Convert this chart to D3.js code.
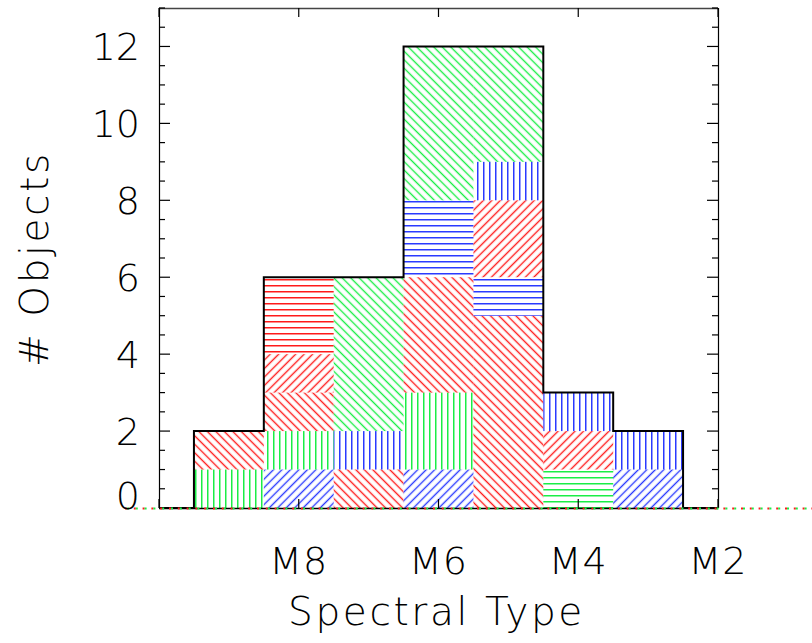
<!DOCTYPE html>
<html>
<head>
<meta charset="utf-8">
<script src="https://cdn.jsdelivr.net/npm/d3@7"></script>
<style>
  html, body { margin: 0; padding: 0; background: #fff; }
  svg text { font-family: "DejaVu Sans", "Noto Sans", sans-serif; font-weight: 200; fill: #000; }
</style>
</head>
<body>
<svg id="chart" width="812" height="643"></svg>
<script>
// Spectral subtype bins along the x axis (M10 ... M2)
const subtypes = [10, 9, 8, 7, 6, 5, 4, 3, 2];

// Stacked groups inside each bin, listed bottom to top
const segSubtype = [9, 9, 8, 8, 8, 8, 8, 7, 7, 7, 6, 6, 6, 6, 6, 5, 5, 5, 5, 5, 4, 4, 4, 3, 3];
const segCount   = [1, 1, 1, 1, 1, 1, 2, 1, 1, 4, 1, 2, 3, 2, 4, 5, 1, 2, 1, 3, 1, 1, 1, 1, 1];
const segColor   = ["green", "red",
                    "blue", "green", "red", "red", "red",
                    "red", "blue", "green",
                    "blue", "green", "red", "blue", "green",
                    "red", "blue", "red", "blue", "green",
                    "green", "red", "blue",
                    "blue", "blue"];
const segHatch   = ["vert", "back",
                    "fwd", "vert", "back", "fwd", "horiz",
                    "back", "vert", "back",
                    "fwd", "vert", "back", "horiz", "back",
                    "back", "horiz", "fwd", "vert", "back",
                    "horiz", "fwd", "vert",
                    "fwd", "vert"];

// Axis ticks and labels
const xTickValues = [10, 8, 6, 4, 2];
const xTickLabels = ["", "M8", "M6", "M4", "M2"];
const yTickValues = [0, 2, 4, 6, 8, 10, 12];

const palette = { red: "#ff1a1a", green: "#1aee46", blue: "#2a3aff" };

const svg = d3.select("#chart");
const plotLeft = 159, plotRight = 718, plotTop = 8, plotBottom = 508;

const x = d3.scaleLinear().domain([10, 2]).range([plotLeft, plotRight]);
const y = d3.scaleLinear().domain([0, 13]).range([plotBottom, plotTop]);

// Hatch patterns: one per colour / direction pair
const defs = svg.append("defs");
Object.keys(palette).forEach(c => {
  const col = palette[c];
  // vertical lines
  defs.append("pattern").attr("id", `hatch-${c}-vert`)
    .attr("patternUnits", "userSpaceOnUse").attr("width", 6).attr("height", 6)
    .append("rect").attr("x", 3).attr("y", 0).attr("width", 1.5).attr("height", 6).attr("fill", col);
  // horizontal lines
  defs.append("pattern").attr("id", `hatch-${c}-horiz`)
    .attr("patternUnits", "userSpaceOnUse").attr("width", 6).attr("height", 6)
    .append("rect").attr("x", 0).attr("y", 3).attr("width", 6).attr("height", 1.5).attr("fill", col);
  // diagonals
  [["fwd", 45], ["back", -45]].forEach(([h, a]) => {
    defs.append("pattern").attr("id", `hatch-${c}-${h}`)
      .attr("patternUnits", "userSpaceOnUse").attr("width", 6).attr("height", 6)
      .attr("patternTransform", `rotate(${a})`)
      .append("line").attr("x1", 3.5).attr("x2", 3.5).attr("y1", -1).attr("y2", 7)
      .attr("stroke", col).attr("stroke-width", 1.4);
  });
});

defs.append("clipPath").attr("id", "plot-clip")
  .append("rect").attr("x", plotLeft).attr("y", plotTop - 2)
  .attr("width", plotRight - plotLeft).attr("height", plotBottom - plotTop + 4);

// Build stacked segments
const running = {};
const segments = segSubtype.map((s, i) => {
  const y0 = running[s] || 0;
  const y1 = y0 + segCount[i];
  running[s] = y1;
  return { s, y0, y1, color: segColor[i], hatch: segHatch[i] };
});
const totals = subtypes.map(s => running[s] || 0);

// Hatched blocks
svg.append("g").attr("clip-path", "url(#plot-clip)")
  .selectAll("rect").data(segments).join("rect")
  .attr("x", d => x(d.s + 0.5))
  .attr("width", d => x(d.s - 0.5) - x(d.s + 0.5))
  .attr("y", d => y(d.y1))
  .attr("height", d => y(d.y0) - y(d.y1))
  .attr("fill", d => `url(#hatch-${d.color}-${d.hatch})`);

// Histogram outline (step)
const stepPts = [];
subtypes.forEach((s, i) => {
  stepPts.push([x(s + 0.5), y(totals[i])]);
  stepPts.push([x(s - 0.5), y(totals[i])]);
});
svg.append("path")
  .attr("clip-path", "url(#plot-clip)")
  .attr("d", d3.line()(stepPts))
  .attr("fill", "none").attr("stroke", "#000").attr("stroke-width", 2);

// Frame
svg.append("line").attr("x1", plotLeft).attr("x2", plotRight)
  .attr("y1", plotBottom + 0.5).attr("y2", plotBottom + 0.5)
  .attr("stroke", "#000").attr("stroke-width", 1.5);
svg.append("line").attr("x1", plotLeft).attr("x2", plotRight)
  .attr("y1", plotTop + 0.5).attr("y2", plotTop + 0.5)
  .attr("stroke", "#444").attr("stroke-width", 1.5);
svg.append("line").attr("x1", plotLeft + 0.5).attr("x2", plotLeft + 0.5)
  .attr("y1", plotTop).attr("y2", plotBottom)
  .attr("stroke", "#000").attr("stroke-width", 1.2);
svg.append("line").attr("x1", plotRight + 0.5).attr("x2", plotRight + 0.5)
  .attr("y1", plotTop).attr("y2", plotBottom)
  .attr("stroke", "#000").attr("stroke-width", 1.2);

// Y ticks (major every 2, minor every 0.5) on both sides, X ticks top and bottom
const yMinor = d3.range(0, 13.01, 0.5).filter(v => v % 2 !== 0);
const tickG = svg.append("g").attr("stroke", "#000").attr("stroke-width", 1.2);
yTickValues.forEach(v => {
  tickG.append("line").attr("x1", plotLeft).attr("x2", plotLeft + 11).attr("y1", y(v)).attr("y2", y(v));
  tickG.append("line").attr("x1", plotRight).attr("x2", plotRight - 11).attr("y1", y(v)).attr("y2", y(v));
});
yMinor.forEach(v => {
  tickG.append("line").attr("x1", plotLeft).attr("x2", plotLeft + 6).attr("y1", y(v)).attr("y2", y(v));
  tickG.append("line").attr("x1", plotRight).attr("x2", plotRight - 6).attr("y1", y(v)).attr("y2", y(v));
});
xTickValues.forEach(v => {
  tickG.append("line").attr("x1", x(v)).attr("x2", x(v)).attr("y1", plotBottom).attr("y2", plotBottom - 9);
  tickG.append("line").attr("x1", x(v)).attr("x2", x(v)).attr("y1", plotTop).attr("y2", plotTop + 9);
});

// Dotted red/green baseline across the full width
svg.append("line").attr("x1", 125).attr("x2", 812)
  .attr("y1", plotBottom + 0.5).attr("y2", plotBottom + 0.5)
  .attr("stroke", palette.red).attr("stroke-width", 2).attr("stroke-dasharray", "2 6.8");
svg.append("line").attr("x1", 127).attr("x2", 812)
  .attr("y1", plotBottom + 0.5).attr("y2", plotBottom + 0.5)
  .attr("stroke", palette.green).attr("stroke-width", 2).attr("stroke-dasharray", "2 6.8");

// Tick labels
svg.append("g").selectAll("text").data(yTickValues).join("text")
  .attr("x", 140)
  .attr("y", v => y(v) + (v === 0 ? 1 : 14))
  .attr("text-anchor", "end")
  .attr("font-size", 38)
  .text(v => v);

svg.append("g").selectAll("text").data(xTickValues).join("text")
  .attr("x", v => x(v))
  .attr("y", 574)
  .attr("text-anchor", "middle")
  .attr("font-size", 38)
  .attr("letter-spacing", 1)
  .text((v, i) => xTickLabels[i]);

// Axis titles
svg.append("text")
  .attr("x", (plotLeft + plotRight) / 2 - 2).attr("y", 625)
  .attr("text-anchor", "middle").attr("font-size", 39)
  .attr("letter-spacing", 2.6)
  .text("Spectral Type");

svg.append("text")
  .attr("transform", "translate(48,259) rotate(-90)")
  .attr("text-anchor", "middle").attr("font-size", 39)
  .attr("letter-spacing", 2.6)
  .text("# Objects");
</script>
</body>
</html>
